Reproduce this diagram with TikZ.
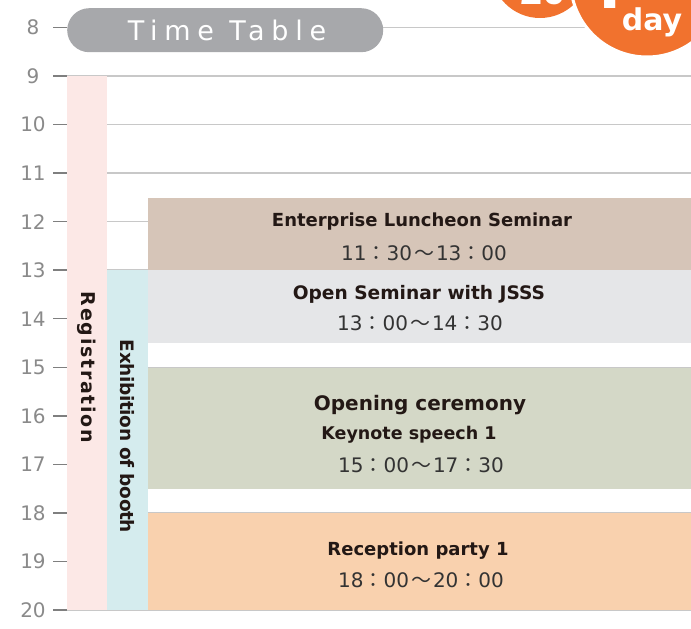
\documentclass[tikz,border=0pt]{standalone}
\usepackage{fontspec}
\setmainfont{DejaVu Sans}
\newfontfamily\cjk{Noto Sans CJK JP}
\newfontfamily\heros{TeX Gyre Heros}
\newfontfamily\titlefont[LetterSpace=25]{DejaVu Sans}
\newfontfamily\regfont[LetterSpace=9]{DejaVu Sans}
\newfontfamily\exhfont[LetterSpace=-2]{DejaVu Sans}
\definecolor{regc}{HTML}{FCE8E6}
\definecolor{exhc}{HTML}{D5ECEE}
\definecolor{lunchc}{HTML}{D6C5B8}
\definecolor{openc}{HTML}{E5E6E8}
\definecolor{cerc}{HTML}{D4D8C7}
\definecolor{recc}{HTML}{F9D1AE}
\definecolor{orangec}{HTML}{F1722E}
\definecolor{titlec}{HTML}{A7A8AB}
\definecolor{hlinec}{HTML}{C8C8C8}
\definecolor{tickc}{HTML}{7F7F7F}
\definecolor{numc}{HTML}{8A8A8A}
\definecolor{inkc}{HTML}{231815}
\definecolor{timec}{HTML}{333333}
\newcommand{\tcol}{{\cjk ：}}
\newcommand{\twav}{\hspace{2pt}{\cjk ～}\hspace{2pt}}
\tikzset{
  hline/.style={draw=hlinec, line width=1.5pt},
  tickline/.style={draw=tickc, line width=1.5pt},
  num/.style={text=numc, font=\fontsize{20}{20}\selectfont, inner sep=0pt},
  evbox/.style={rectangle, inner sep=0pt, anchor=north west, minimum width=543pt},
  colbox/.style={rectangle, inner sep=0pt, anchor=north west},
  label/.style={text=inkc, font=\fontsize{18}{20}\selectfont\bfseries, inner sep=0pt},
  biglabel/.style={text=inkc, font=\fontsize{20}{22}\selectfont\bfseries, inner sep=0pt},
  timelabel/.style={text=timec, font=\fontsize{20}{22}\selectfont, inner sep=0pt},
  vlabel/.style={text=inkc, rotate=-90, inner sep=0pt},
}
\begin{document}
\begin{tikzpicture}[x=1pt,y=-1pt]
\useasboundingbox (0,0) rectangle (691,629);
\clip (0,0) rectangle (691,629);
% hour lines, ticks, numbers
\foreach \h in {8,...,20}{
  \pgfmathsetmacro\yy{76+(\h-9)*48.545}
  \draw[tickline] (53,\yy) -- (67,\yy);
  \node[num] (n\h) at (33,\yy) {\h};
}
\draw[hline] (383,27.5) -- (691,27.5);
\foreach \h in {9,...,20}{
  \pgfmathsetmacro\yy{76+(\h-9)*48.545}
  \draw[hline] (67,\yy) -- (691,\yy);
}
% columns
\node[colbox, fill=regc, minimum width=40pt, minimum height=534pt] (reg) at (67,76) {};
\node[colbox, fill=exhc, minimum width=41pt, minimum height=339.8pt] (exh) at (107,270.2) {};
\node[vlabel, font=\fontsize{19}{20}\bfseries\regfont] (regt) at (87,367.5) {Registration};
\node[vlabel, font=\fontsize{18.5}{20}\bfseries\exhfont] (exht) at (127,436.5) {Exhibition of booth};
% event boxes
\node[evbox, fill=lunchc, minimum height=72.8pt] (lunch) at (148,197.4) {};
\node[evbox, fill=openc, minimum height=72.8pt] (open) at (148,270.2) {};
\node[evbox, fill=cerc, minimum height=121.4pt] (cer) at (148,367.3) {};
\node[evbox, fill=recc, minimum height=97pt] (rec) at (148,513) {};
% texts
\node[label] (lunchT) at (422,222) {Enterprise Luncheon Seminar};
\node[timelabel] (lunchH) at (424,253) {11\tcol30\twav13\tcol00};
\node[label, font=\fontsize{18.6}{20}\selectfont\bfseries] (openT) at (419,294) {Open Seminar with JSSS};
\node[timelabel] (openH) at (420,323) {13\tcol00\twav14\tcol30};
\node[biglabel] (cerT) at (420,405) {Opening ceremony};
\node[label, font=\fontsize{17.5}{20}\selectfont\bfseries] (cerK) at (409,435) {Keynote speech 1};
\node[timelabel] (cerH) at (421,465) {15\tcol00\twav17\tcol30};
\node[label] (recT) at (418,551) {Reception party 1};
\node[timelabel] (recH) at (421,580) {18\tcol00\twav20\tcol00};
% title
\node[rectangle, rounded corners=22pt, fill=titlec, minimum width=316pt, minimum height=44pt, inner sep=0pt, anchor=north west] (title) at (67,8) {};
\node[text=white, font=\fontsize{27}{28}\selectfont\titlefont, inner sep=0pt] (titleT) at (227,30) {Time Table};
% day badge
\node[circle, fill=orangec, minimum size=98pt, inner sep=0pt] (c1) at (540,-31) {};
\node[text=white, font=\heros\bfseries\fontsize{40}{40}\selectfont, anchor=base, inner sep=0pt] (c1t) at (543,5) {20};
\node[circle, fill=orangec, draw=white, line width=3pt, minimum size=153pt, inner sep=0pt] (c2) at (647,-19.5) {};
\node[text=white, font=\heros\bfseries\fontsize{80}{80}\selectfont, anchor=base, inner sep=0pt] (c2t) at (608,9) {1};
\node[text=white, font=\fontsize{30}{30}\selectfont\bfseries, anchor=base, inner sep=0pt] (day) at (652,30) {day};
\end{tikzpicture}
\end{document}
